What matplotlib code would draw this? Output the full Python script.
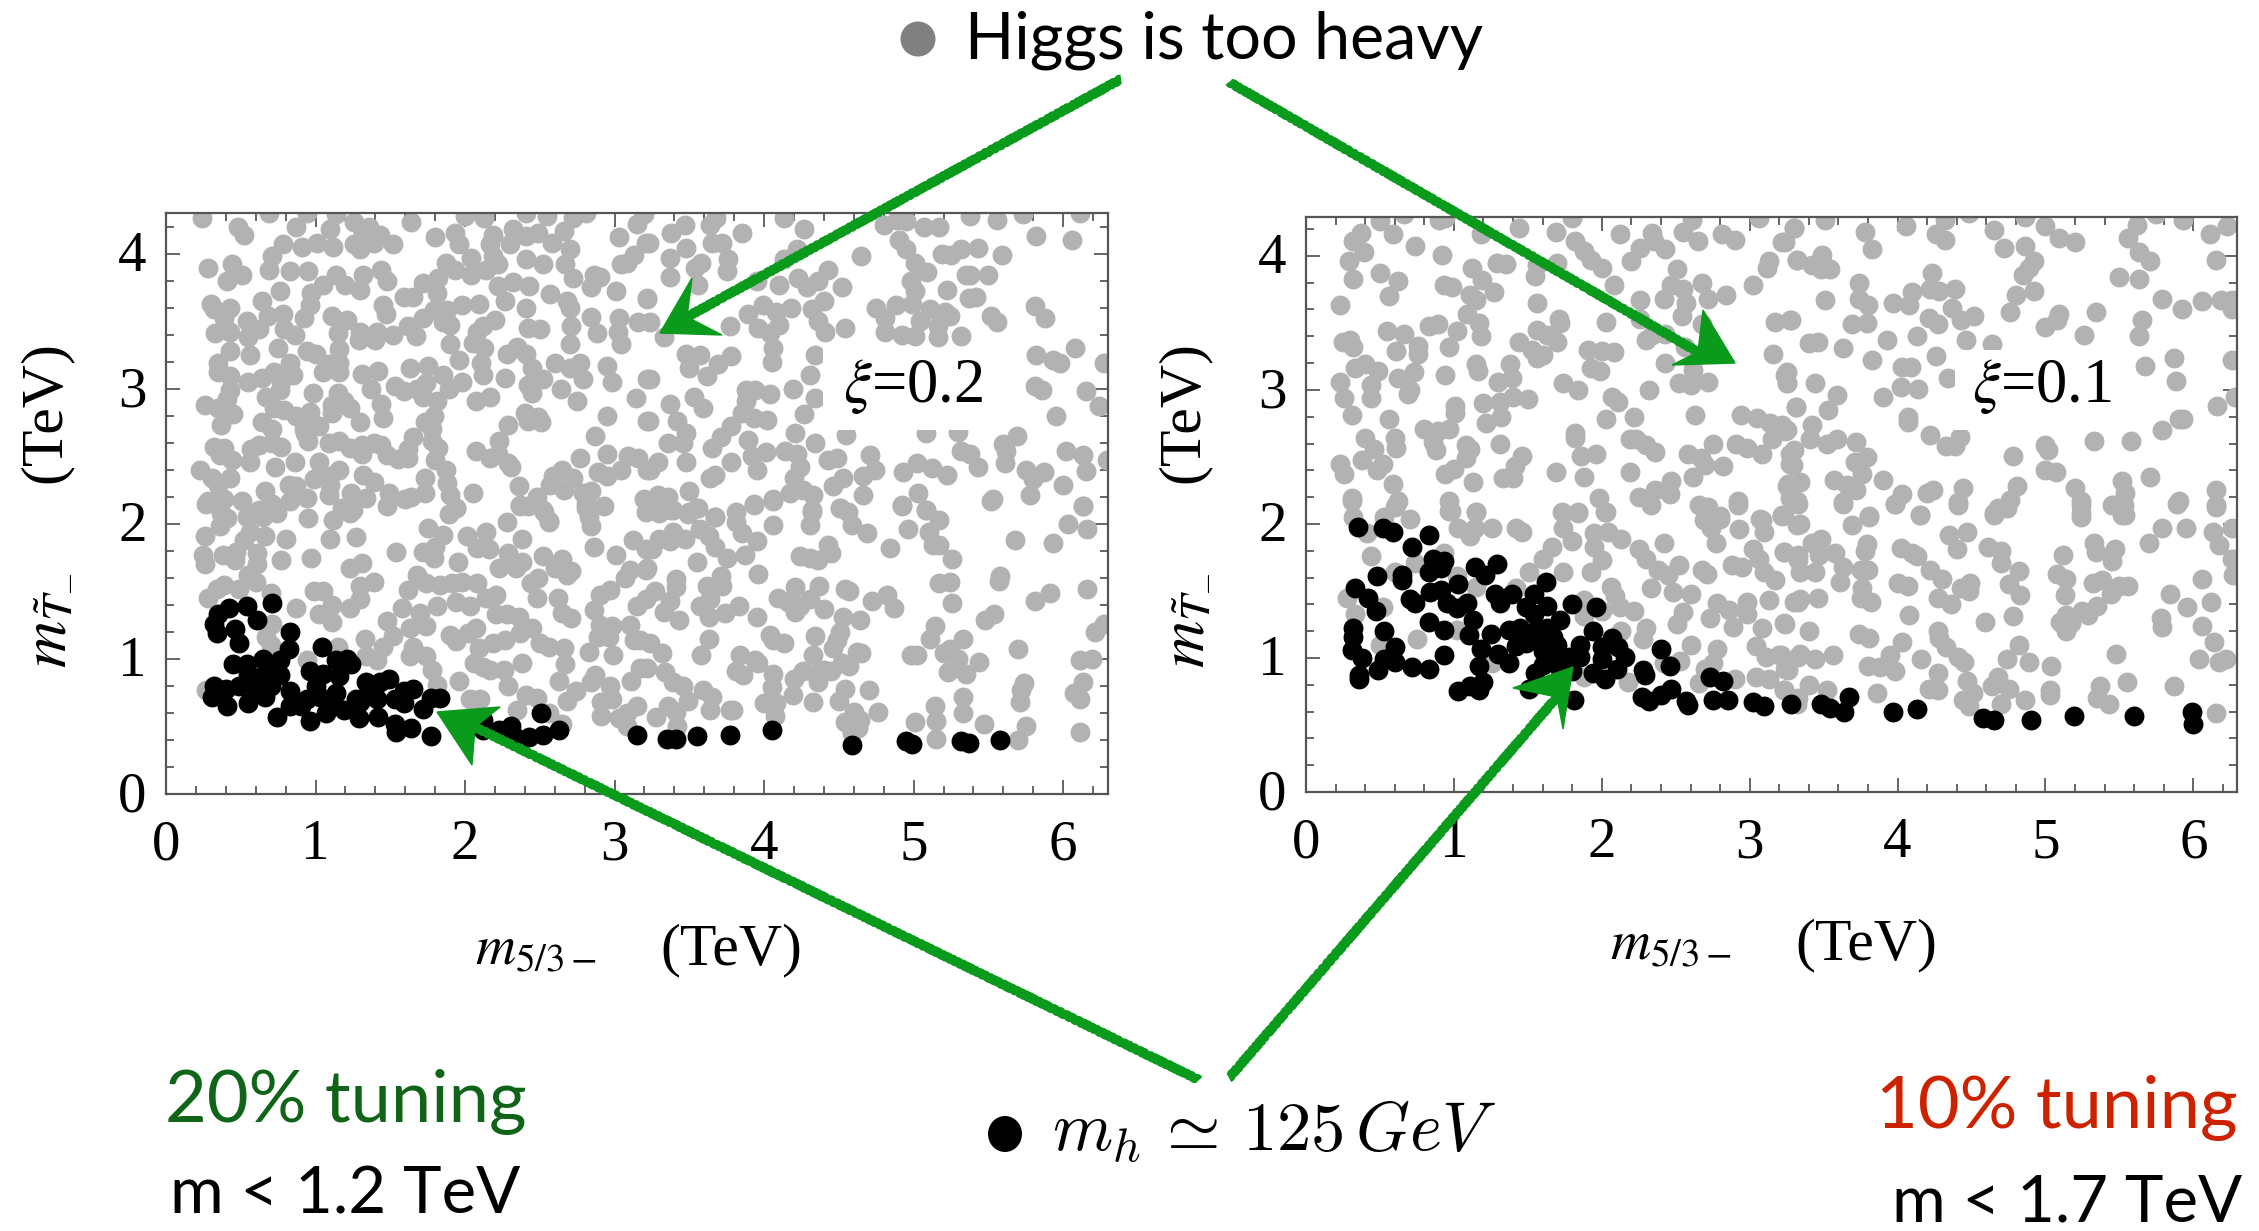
import matplotlib
matplotlib.use("Agg")
import matplotlib.pyplot as plt
from matplotlib.patches import Ellipse, Polygon, Rectangle
from matplotlib.ticker import MultipleLocator
from matplotlib.transforms import ScaledTranslation

# ---- data: (m_5/3, m_T) in TeV ----
left_gray = [
(.24,4.26),(.48,4.20),(.52,4.14),(.69,4.30),(.87,4.20),(.94,4.30),(1.10,4.18),(1.14,4.29),(1.26,4.23),(1.36,4.20),(1.43,4.14),(1.32,4.15),(1.52,4.07),(1.39,4.08),(1.30,4.03),(1.26,4.07),(1.64,4.23),(1.80,4.12),(1.93,4.15),(1.96,4.07),(2.0,4.28),(2.13,4.26),(2.19,4.14),(2.32,4.18),(2.41,4.30),(2.55,4.28),(2.72,4.26),(2.81,4.30),(2.41,4.13),(2.49,4.15),(2.58,4.08),(2.66,4.17),(2.70,4.03),(2.30,4.07),(2.17,4.07),(3.03,4.12),(3.15,4.22),(3.21,4.08),
(.78,4.07),(.91,4.05),(1.01,4.08),(1.12,4.05),(.71,3.98),(.28,3.89),(.44,3.92),(.51,3.84),(.41,3.80),(.69,3.88),(.83,3.87),(.95,3.87),(.76,3.72),(1.14,3.84),(1.05,3.77),(1.20,3.77),(1.30,3.73),(1.32,3.84),(1.44,3.88),(1.48,3.80),(.97,3.71),(.96,3.62),(.30,3.63),(.32,3.59),(.43,3.60),(.64,3.65),(.39,3.52),(.54,3.50),(.68,3.54),(.78,3.55),(.92,3.52),(.43,3.42),(.33,3.41),(.62,3.44),(.55,3.38),(.79,3.44),(.86,3.40),(.43,3.28),(.56,3.25),(.75,3.30),(.94,3.28),(1.0,3.26),(.35,3.19),(.83,3.19),(.35,3.12),(.43,3.09),(.55,3.05),(.64,3.08),(.72,3.12),(.85,3.10),(.77,3.05),(.43,2.99),(.76,2.99),(.41,2.92),(.26,2.88),(.35,2.86),(.45,2.81),(.37,2.73),(.67,2.94),(.72,2.86),(.79,2.84),(.64,2.75),(.71,2.70),(.98,2.97),(.87,2.80),(.96,2.83),(1.02,2.72),(.92,2.70),
(1.11,3.54),(1.21,3.51),(1.15,3.41),(1.29,3.36),(1.30,3.42),(1.40,3.36),(1.41,3.42),(1.52,3.40),(1.67,3.39),(1.62,3.46),(1.72,3.52),(1.79,3.58),(1.85,3.49),(1.90,3.47),(1.88,3.58),(1.98,3.62),(1.90,3.33),(1.96,3.21),(1.45,3.62),(1.47,3.55),(1.59,3.68),(1.65,3.68),(1.72,3.78),(1.82,3.82),(1.81,3.71),(1.87,3.93),(1.93,3.88),(2.04,3.97),(2.04,3.84),(2.14,3.88),(2.22,3.92),(2.19,3.98),(2.41,3.96),(2.52,3.92),(2.67,3.92),(2.72,3.82),(2.86,3.84),(2.84,3.75),(2.90,3.83),(3.01,3.72),(3.04,3.92),(3.13,3.99),(3.08,3.93),(3.22,3.67),
(2.09,3.63),(2.22,3.76),(2.32,3.79),(2.43,3.76),(2.57,3.70),(2.68,3.65),(2.70,3.60),(2.27,3.65),(2.20,3.51),(2.12,3.46),(2.08,3.42),(2.05,3.34),(2.13,3.30),(2.11,3.19),(2.12,3.10),(2.27,3.08),(2.41,3.60),(2.42,3.45),(2.50,3.44),(2.28,3.26),(2.35,3.31),(2.41,3.26),(2.45,3.15),(2.60,3.19),(2.70,3.33),(2.77,3.19),(2.79,3.07),(2.70,3.15),(2.52,3.07),(2.42,3.03),(2.45,2.97),(2.64,3.0),(2.75,2.91),(2.71,3.46),(2.84,3.53),(2.88,3.41),(3.03,3.52),(3.02,3.42),(3.04,3.33),(3.16,3.49),(2.95,3.17),(2.98,3.05),(3.14,2.93),(2.95,2.80),(2.87,2.65),(3.22,3.07),(3.22,2.76),(2.77,2.49),(2.95,2.52),(2.89,2.38),(2.95,2.35),(3.04,2.40),(3.09,2.50),(3.16,2.49),(3.22,2.40),
(1.31,3.11),(1.42,3.13),(1.37,3.0),(1.63,3.15),(1.75,3.17),(1.85,3.10),(1.98,3.05),(1.89,3.0),(1.74,3.04),(1.68,3.0),(1.53,3.02),(1.59,2.98),(1.72,2.94),(1.81,2.91),(2.07,2.91),(2.17,2.94),(1.44,2.89),(1.45,2.78),(1.79,2.80),(1.73,2.75),(1.78,2.70),(1.65,2.64),(1.78,2.61),(1.82,2.56),(1.80,2.47),(1.87,2.40),(1.88,2.30),(1.90,2.21),(1.94,2.12),(1.89,2.07),(2.05,2.23),(1.73,2.34),(1.73,2.23),(1.64,2.20),(1.60,2.18),
(1.16,3.12),(1.05,3.12),(1.09,3.18),(1.16,3.19),(1.16,3.29),(1.15,2.97),(1.19,2.91),(1.11,2.82),(1.11,2.88),(1.23,2.86),(1.30,2.75),(1.09,2.60),(1.16,2.61),(1.23,2.56),(1.31,2.58),(1.31,2.52),(1.39,2.60),(1.44,2.58),(1.48,2.51),(1.55,2.48),(1.62,2.49),(1.62,2.55),
(.95,2.61),(.93,2.67),(.62,2.58),(.57,2.55),(.77,2.57),(.71,2.60),(.32,2.57),(.39,2.56),(.36,2.51),(.44,2.47),(.56,2.46),(.73,2.42),(.86,2.46),(.23,2.40),(.31,2.34),(.43,2.34),(.35,2.29),(.66,2.24),(.82,2.29),(.87,2.28),(1.02,2.46),(1.16,2.40),(.99,2.33),(1.10,2.35),(1.10,2.29),(1.09,2.21),(1.32,2.36),(1.39,2.31),(1.24,2.23),(1.34,2.19),(1.49,2.23),(1.48,2.13),(.28,2.17),(.39,2.18),(.51,2.17),(.62,2.10),(.71,2.15),(.83,2.17),(.94,2.19),(.37,2.08),(1.18,2.12),(1.25,2.10),
(2.23,2.61),(2.22,2.52),(2.07,2.54),(2.17,2.49),(2.31,2.42),(2.29,2.45),(2.29,2.73),(2.40,2.82),(2.49,2.79),(2.51,2.75),(2.42,2.76),(2.36,2.28),(2.37,2.14),(2.42,2.13),(2.48,2.20),(2.53,2.09),(2.56,2.02),(2.57,2.29),(2.65,2.40),(2.59,2.35),(2.72,2.34),(2.66,2.25),(2.84,2.24),(2.79,2.23),(2.81,2.15),(2.93,2.13),(2.83,2.05),(3.20,2.18),(3.21,2.09),
(3.20,4.29),(3.38,4.15),(3.23,4.08),(3.47,4.21),(3.48,4.04),(3.37,3.97),(3.37,3.83),(3.64,4.21),(3.68,4.26),(3.85,4.15),(3.65,4.08),(3.72,4.08),(3.76,3.96),(3.75,3.87),(3.58,3.93),(3.54,3.89),(3.56,3.77),(3.22,3.66),(4.13,4.26),(4.27,4.18),(4.22,4.03),(4.13,3.96),(4.65,3.98),(4.80,4.21),(4.89,4.25),(4.95,4.24),(5.07,4.20),(5.17,4.20),(5.38,4.28),(5.56,4.25),(5.73,4.29),(5.82,4.13),(6.06,4.10),(6.11,4.30),(4.90,4.10),(4.95,4.03),(5.01,3.93),(5.09,3.86),(5.19,4.0),(5.25,3.99),(5.32,4.03),(5.43,4.04),(5.59,3.99),(5.35,3.84),(5.38,3.84),(5.50,3.84),(5.22,3.73),(5.37,3.67),(5.42,3.68),(4.98,3.80),(5.01,3.72),(4.99,3.63),(4.88,3.62),(4.75,3.60),(4.81,3.52),(4.81,3.42),(4.92,3.40),(5.01,3.39),(5.04,3.50),(5.11,3.59),(5.21,3.57),(5.24,3.54),(5.16,3.46),(5.16,3.38),(5.32,3.39),(5.52,3.54),(5.56,3.49),(5.81,3.61),(5.88,3.52),(6.08,3.30),(5.82,3.25),(5.93,3.21),(5.98,3.19),(6.27,3.19),(6.15,2.98),(6.24,2.87),(5.81,3.02),(5.86,2.99),(5.95,2.80),(5.69,2.65),(5.60,2.59),(5.62,2.54),(5.61,2.45),(5.43,2.42),(5.38,2.52),(5.32,2.54),(5.08,2.67),(5.30,2.68),(4.55,2.66),(6.02,2.54),(6.13,2.51),(6.15,2.39),(5.87,2.38),(5.75,2.40),(5.80,2.33),(5.78,2.21),(6.0,2.29),(5.53,2.18),(6.13,2.13),(6.29,2.47),
(5.12,2.41),(5.22,2.36),(5.02,2.45),(4.93,2.38),(5.03,2.23),(4.92,2.14),(5.08,2.10),(4.71,2.51),(4.74,2.40),(4.66,2.35),(4.66,2.21),(4.53,2.34),(4.46,2.28),(4.49,2.49),(4.43,2.47),(4.51,2.12),(4.34,2.60),
(3.24,3.49),(3.33,3.38),(3.48,3.26),(3.57,3.25),(3.50,3.15),(3.62,3.09),(3.69,3.18),(3.78,3.24),(3.77,3.46),(3.89,3.55),(3.99,3.62),(3.96,3.45),(4.08,3.57),(4.18,3.60),(4.10,3.47),(4.04,3.41),(4.06,3.30),(4.05,3.20),(3.95,3.80),(4.10,3.77),(4.23,3.82),(4.29,3.75),(4.36,3.80),(4.43,3.88),(4.52,3.75),(4.40,3.65),(4.32,3.59),(4.36,3.50),(4.41,3.42),(4.54,3.45),(4.34,3.25),(4.31,3.10),
(3.24,3.07),(3.53,2.94),(3.37,2.89),(3.59,2.86),(3.23,2.76),(3.42,2.76),(3.48,2.67),(3.36,2.60),(3.46,2.60),(3.48,2.46),(3.29,2.46),(3.24,2.40),(3.71,2.64),(3.65,2.56),(3.78,2.72),(3.85,2.82),(3.88,2.99),(3.94,2.99),(4.04,2.96),(3.88,2.91),(4.02,2.77),(3.93,2.78),(3.78,2.46),(3.89,2.62),(4.01,2.53),(3.92,2.50),(3.95,2.40),(3.64,2.34),(3.67,2.36),(4.19,3.0),(4.27,2.81),(4.34,2.93),(4.21,2.67),(4.14,2.54),(4.22,2.52),(4.24,2.42),(4.20,2.34),(4.26,2.25),(4.33,2.21),(4.17,2.23),(4.06,2.18),(3.93,2.15),(3.81,2.09),(3.67,2.05),(3.55,2.12),(3.50,2.24),(3.36,2.20),(3.29,2.21),(3.23,2.17),(3.38,2.10),(3.49,2.07),(4.32,2.10),
(.26,1.91),(.25,1.77),(.26,1.70),(.27,2.15),(.36,1.98),(.41,2.04),(.54,2.05),(.65,2.05),(.74,2.08),(.56,1.94),(.80,1.89),(.66,1.91),(.52,1.88),(.47,1.79),(.38,1.77),(.46,1.73),(.61,1.78),(.61,1.70),(.55,1.62),(.60,1.57),(.77,1.73),(.97,1.75),(1.10,1.89),(1.27,1.90),(.95,2.04),(1.12,2.03),(1.23,2.08),(.39,1.55),(.34,1.52),(.28,1.45),(.70,1.49),(.49,1.52),
(1.23,1.67),(1.31,1.71),(1.39,1.57),(1.30,1.54),(1.30,1.44),(1.23,1.38),(1.11,1.40),(1.05,1.50),(.99,1.50),(1.02,1.33),(1.11,1.27),(.87,1.38),(.71,1.26),(1.48,1.28),(1.54,1.79),(1.72,1.79),(1.79,1.75),(1.95,1.72),(1.75,1.97),(1.85,1.92),(1.80,1.83),(1.94,2.12),(2.01,1.91),(2.14,1.94),(2.08,1.82),(2.16,1.81),(2.28,2.01),(2.38,1.89),(2.29,1.78),(2.23,1.67),(2.34,1.67),(2.38,1.72),(2.52,1.76),(2.65,1.74),(2.60,1.67),(2.68,1.62),(2.71,1.65),(2.44,1.56),(2.49,1.60),(2.48,1.45),(2.62,1.45),(2.65,1.34),(2.71,1.30),(2.86,1.83),(3.01,1.77),(3.12,1.88),(2.84,1.98),(2.81,2.12),(2.56,2.01),(2.52,2.10),(2.37,2.13),(3.21,1.81),
(3.07,1.60),(3.10,1.66),(3.21,1.66),(2.97,1.51),(2.90,1.47),(2.86,1.36),(2.90,1.25),(2.98,1.24),(2.89,1.16),(2.96,1.16),(2.83,1.05),(2.99,1.03),(3.10,1.25),(3.15,1.39),(3.13,1.14),(3.21,1.44),(2.66,1.08),(2.56,1.09),(2.67,.96),(2.63,.84),(2.87,.88),(2.84,.83),(2.97,.80),(3.17,.93),(3.11,.84),(2.91,.68),(2.98,.70),(2.74,.76),(2.68,.69),(2.91,.58),(3.15,.65),(3.08,.60),(3.08,.50),(3.03,.56),(2.65,.52),(2.56,.60),
(2.45,1.23),(2.36,1.31),(2.28,1.33),(2.21,1.33),(2.37,1.19),(2.50,1.12),(2.27,1.14),(2.38,.97),(2.19,1.12),(2.09,1.08),(2.07,1.23),(1.90,1.18),(1.94,1.13),(2.02,1.19),(1.65,1.09),(1.63,1.02),(1.74,1.02),(1.78,.92),(1.81,.81),(1.52,1.17),(1.33,1.15),(1.45,1.09),(1.41,.99),(1.34,1.02),(1.15,1.09),(.94,.99),(1.96,.84),(2.06,.97),(2.17,.92),(2.26,.92),(2.29,.80),(2.12,.94),(2.03,.70),(2.10,.70),(2.41,.73),(2.48,.71),(2.35,.62),(1.62,1.51),(1.68,1.62),(1.74,1.56),(1.83,1.55),(1.91,1.56),(1.98,1.57),(2.08,1.56),(2.21,1.47),(2.14,1.45),(1.58,1.38),(1.70,1.34),(1.81,1.39),(1.94,1.42),(2.03,1.39),(1.74,1.24),(1.63,1.23),(.67,1.16),(.70,1.10),(.27,.77),
(3.30,2.08),(3.22,2.10),(3.39,2.10),(3.50,2.09),(3.56,2.12),(3.67,2.05),(3.81,2.01),(3.85,1.93),(3.93,2.14),(4.06,1.99),(3.95,1.87),(4.06,2.17),(4.32,2.09),(4.31,1.99),(4.51,2.12),(4.56,2.09),(4.59,1.99),(4.69,1.93),(4.92,2.13),(4.96,1.96),(5.08,2.10),(5.17,2.03),(5.10,1.94),(5.13,1.84),(5.17,1.84),(5.26,1.74),(4.84,1.82),(5.52,2.17),(5.68,1.88),(5.93,1.86),(6.03,2.0),(6.16,1.96),(6.13,2.13),
(3.39,1.94),(3.30,1.89),(3.37,1.87),(3.25,1.81),(3.47,1.89),(3.57,1.96),(3.63,1.91),(3.67,1.83),(3.55,1.72),(3.75,1.75),(3.87,1.77),(3.22,1.67),(3.96,1.63),(4.24,1.76),(4.31,1.75),(4.36,1.73),(4.43,1.84),(4.45,1.78),
(3.41,1.59),(3.41,1.53),(3.27,1.50),(3.37,1.43),(3.33,1.35),(3.43,1.29),(3.62,1.54),(3.71,1.61),(3.72,1.54),(3.57,1.39),(3.64,1.44),(3.63,1.31),(3.74,1.34),(3.83,1.39),(3.95,1.31),(4.09,1.45),(4.16,1.42),(4.21,1.53),(4.24,1.39),(4.21,1.35),(4.31,1.44),(4.37,1.54),(4.40,1.37),(4.54,1.52),(4.57,1.50),(4.72,1.43),(4.82,1.47),(4.87,1.38),(4.53,1.31),(4.64,1.29),(5.17,1.56),(5.24,1.57),(5.26,1.41),(5.58,1.61),(5.57,1.58),(5.91,1.49),(5.81,1.43),(6.16,1.52),(5.54,1.33),(5.48,1.29),
(3.63,1.15),(3.58,1.03),(3.24,1.12),(3.32,1.04),(3.17,1.14),(4.04,1.18),(4.06,1.14),(4.13,1.12),(4.34,1.17),(4.51,1.20),(4.49,1.14),(4.46,1.08),(4.33,1.03),(4.62,1.05),(4.65,1.04),(4.57,.95),(4.52,.97),(4.98,1.03),(5.02,1.03),(5.14,1.24),(5.11,1.15),(5.33,1.15),(5.20,1.04),(5.24,1.07),(5.30,1.0),(5.23,.90),(5.35,.89),(5.44,.98),(5.70,1.07),(6.21,1.20),(6.27,1.26),(6.11,.99),(6.19,1.0),(6.13,.83),(6.07,.75),(6.11,.70),(6.11,.46),
(3.84,1.03),(3.81,.91),(3.86,.88),(3.94,.99),(3.96,.97),(4.06,.89),(4.05,.79),(4.20,.85),(4.26,.91),(4.35,.89),(4.36,.83),(4.45,.91),(4.40,.92),(4.19,.73),(4.00,.67),(4.08,.67),(4.07,.58),(4.33,.68),(4.50,.69),(4.54,.78),(4.70,.77),(4.76,.61),(4.60,.61),(4.54,.53),(4.64,.55),(4.63,.49),(4.59,.45),
(3.34,.90),(3.39,.83),(3.46,.80),(3.49,.69),(3.59,.77),(3.65,.72),(3.64,.62),(3.77,.62),(3.79,.62),(3.36,.65),(3.41,.61),(3.28,.57),(3.42,.50),(3.22,.93),
(5.33,.72),(5.33,.60),(5.14,.65),(5.15,.54),(5.01,.53),(5.15,.41),(5.47,.52),(5.74,.82),(5.72,.77),(5.71,.68),(5.75,.50),(5.70,.40),
]
left_black = [
(.32,.80),(.31,.72),(.41,.65),(.55,.67),(.49,.80),(.66,.72),(.74,.57),(.83,.65),(.83,.76),(.45,.96),(.54,.96),(.65,1.0),(.76,.99),(.82,1.07),(.76,.88),(.64,.87),(.56,.84),(.49,1.12),(.46,1.22),(.34,1.19),(.32,1.26),(.35,1.33),(.42,1.38),(.54,1.39),(.61,1.29),(.71,1.41),(.83,1.20),(1.04,1.09),(1.14,.99),(1.21,1.0),(1.24,.96),(.96,.91),(1.05,.89),(1.16,.87),(.96,.54),(1.03,.72),(.94,.70),(1.07,.60),(1.19,.62),(1.29,.56),(1.27,.70),(1.14,.75),(1.34,.83),(1.43,.83),(1.49,.85),(1.42,.57),(1.41,.70),(1.53,.70),(1.59,.76),(1.65,.78),(1.59,.67),(1.53,.52),(1.54,.46),(1.64,.49),(1.77,.43),(1.72,.63),(1.77,.71),(1.83,.71),(2.12,.47),(2.23,.47),(2.31,.50),(2.33,.43),(2.43,.42),(2.52,.44),(2.63,.47),(2.51,.60),(3.15,.44),(2.12,.55),
(.40,.78),(.60,.75),(.70,.80),(.90,.65),(1.00,.80),(1.10,.65),(.55,.88),(.70,.92),(1.30,.68),(1.35,.75),
(3.35,.41),(3.41,.41),(3.55,.43),(3.77,.44),(4.05,.47),(4.59,.36),(4.95,.39),(4.99,.37),(5.32,.39),(5.37,.38),(5.58,.40),
]
right_gray = [
(.37,4.17),(.32,4.11),(.39,4.03),(.50,4.26),(.59,4.16),(.66,4.31),(.74,4.07),(.92,4.01),(.90,4.27),(.94,4.28),(.29,3.96),(.32,3.83),(.50,3.87),(.62,3.81),(.56,3.70),(.23,3.63),(.93,3.78),(.99,3.77),(1.18,4.16),(1.12,3.91),(1.29,3.95),(1.35,3.94),(1.19,3.82),(1.27,3.73),(1.11,3.71),(1.15,3.67),(1.09,3.57),(1.17,3.50),(1.02,3.44),(1.18,3.40),(.97,3.32),(.83,3.48),(.89,3.49),(.55,3.44),(.66,3.42),(.25,3.36),(.32,3.32),(.30,3.37),(.76,3.33),(.76,3.27),(.61,3.29),(.33,3.16),(.40,3.19),(.49,3.14),(.73,3.13),(.23,3.06),(.62,3.09),(.44,3.04),(.69,2.97),(.70,3.0),(.26,2.94),(.44,2.94),(.31,2.81),(.56,2.78),(1.15,3.19),(1.16,3.14),(.94,3.11),(1.38,3.19),(1.39,3.09),(1.30,3.06),(1.44,4.21),(1.69,4.18),(1.80,4.28),(1.55,3.85),(1.56,3.93),(1.70,3.95),(1.56,3.65),(1.71,3.53),(1.72,3.50),(1.56,3.45),(1.63,3.41),(1.70,3.36),(1.44,3.36),(1.53,3.30),(1.60,3.26),(1.56,3.24),(1.91,3.30),(2.0,3.29),(2.08,3.28),(1.93,3.16),(1.99,3.14),(1.74,3.05),(1.84,3.0),(2.07,2.95),(2.11,2.91),(2.32,3.0),(2.03,2.78),(2.22,2.80),(1.82,2.68),(1.82,2.64),(1.86,2.51),(1.96,2.52),(1.69,2.39),(1.88,2.35),(1.33,2.34),(1.40,2.34),(1.41,2.43),(1.46,2.51),(1.31,2.60),(1.22,2.75),(1.32,2.80),(1.20,2.90),(1.31,2.91),(1.40,2.95),(1.50,2.93),(1.01,2.88),(1.01,2.83),(.80,2.71),(.89,2.69),(.97,2.71),(.86,2.61),(.88,2.55),(1.08,2.59),(1.11,2.56),(1.08,2.49),(1.0,2.41),(.94,2.37),(1.13,2.31),(.40,2.64),(.46,2.56),(.60,2.64),(.61,2.57),(.38,2.48),(.23,2.45),(.26,2.37),(.52,2.45),(.48,2.40),(.59,2.30),(.31,2.19),(.62,2.17),(.60,2.13),(.97,2.17),(.97,2.10),(1.15,2.09),
(2.12,4.16),(1.82,4.11),(1.88,4.04),(1.93,3.97),(2.0,3.91),(2.20,3.96),(2.26,4.06),(2.34,4.17),(2.35,4.11),(2.43,4.05),(2.55,4.18),(2.65,4.11),(2.61,4.27),(2.81,4.16),(2.90,4.12),(2.51,3.90),(2.68,3.80),(2.47,3.78),(2.55,3.75),(2.42,3.68),(2.57,3.65),(2.72,3.68),(2.84,3.71),(2.54,3.55),(2.26,3.67),(2.26,3.53),(2.08,3.78),(2.03,3.51),(2.34,3.41),(2.43,3.42),(2.30,3.37),(2.56,3.32),(2.43,3.20),(2.62,3.15),(2.52,3.05),(2.60,3.04),(2.72,3.06),(2.68,3.49),(3.02,3.78),(3.24,4.10),(3.13,3.96),(3.12,3.91),(3.06,4.28),(3.30,4.21),(3.32,3.97),(3.17,3.51),(3.28,3.52),(3.16,3.27),(3.24,3.11),(3.25,3.05),(2.63,2.81),(2.94,2.81),(3.05,2.79),(3.14,2.75),(3.22,2.74),(3.24,2.69),(3.15,2.63),(2.91,2.60),(2.98,2.57),(3.08,2.52),(2.75,2.60),(2.58,2.52),(2.67,2.49),(2.70,2.44),(2.82,2.43),(2.62,2.35),(3.31,2.87),(3.27,2.52),(3.27,2.45),(2.19,2.39),(2.19,2.63),(2.23,2.63),(2.30,2.59),(2.36,2.54),(2.47,2.32),(2.36,2.25),(2.46,2.22),(2.25,2.20),(2.33,2.14),(1.98,2.19),(2.02,2.09),(2.66,2.14),(2.72,2.06),(2.92,2.17),(2.80,2.06),(3.26,2.30),(3.27,2.19),(3.22,2.07),(3.07,2.04),(1.73,2.09),(1.84,2.09),(.70,2.04),
(.31,2.17),(.32,2.05),(.41,1.93),(.44,1.76),(.28,1.45),(.33,1.33),(.52,1.38),(.60,1.64),(.53,2.05),(.61,2.14),(.74,1.71),(.93,1.78),(1.02,1.61),(1.15,1.53),(.98,2.10),(1.15,2.09),(1.03,1.97),(1.11,1.91),(1.14,1.97),(1.26,1.97),(1.42,1.97),(1.46,1.94),(.75,1.14),(.50,1.10),(1.02,1.21),(1.26,.96),(1.42,1.52),(1.51,1.64),(1.60,1.74),(1.66,1.83),(1.74,2.08),(1.84,2.08),(1.74,1.97),(1.80,1.87),(1.74,1.64),(1.95,1.93),(2.04,1.94),(2.13,1.89),(1.95,1.83),(2.0,1.73),(1.93,1.64),(2.03,2.09),(2.25,1.81),(2.30,1.74),(2.42,1.86),(2.38,1.66),(2.45,1.62),(2.52,1.69),(2.33,1.52),(2.48,1.49),(2.60,1.48),(2.06,1.53),(2.09,1.46),(2.12,1.38),(2.22,1.35),(1.88,1.43),(1.88,1.31),(2.0,1.35),(2.30,1.22),(2.28,1.14),(2.13,1.20),(2.55,1.34),(2.51,1.25),(2.60,1.10),(2.53,.98),(2.42,.96),(1.88,.86),(2.18,.82),(2.68,1.66),(2.71,1.63),(2.88,1.69),(2.95,1.68),(2.69,2.03),(2.74,1.97),(2.77,1.86),(2.80,2.04),(2.72,2.13),(2.92,2.14),(2.93,1.96),(3.08,2.03),(3.10,1.94),(3.02,1.81),(3.06,1.74),(3.10,1.64),(3.17,1.58),(3.13,1.43),(3.22,2.06),(3.23,1.79),(3.32,1.99),(3.33,1.73),(3.33,1.42),(2.78,1.41),(2.73,1.30),(2.86,1.36),(2.89,1.23),(2.98,1.42),(2.98,1.33),(3.08,1.22),(3.23,1.26),(2.78,1.07),(2.75,.96),(2.70,.92),(2.66,.81),(2.90,.84),(3.04,1.09),(3.11,1.01),(3.20,1.02),(3.24,.92),(3.04,.86),(3.13,.84),(3.23,.76),(3.32,.66),(3.33,1.01),
(3.30,4.21),(3.22,4.10),(3.51,4.27),(3.78,4.18),(3.83,4.05),(4.06,4.22),(4.32,4.27),(4.26,4.16),(4.32,4.12),(4.48,4.32),(4.65,4.19),(4.72,4.06),(4.86,4.29),(5.0,4.22),(5.09,4.13),(5.20,4.10),(4.86,4.07),(4.92,3.96),(4.89,3.91),(4.85,3.86),(3.32,3.97),(3.49,4.01),(3.42,3.93),(3.48,3.90),(3.54,3.90),(3.51,3.67),(3.74,3.80),(3.74,3.68),(3.80,3.63),(3.97,3.65),(4.08,3.63),(4.10,3.73),(4.23,3.87),(4.22,3.75),(4.28,3.74),(4.39,3.75),(4.37,3.61),(4.43,3.52),(4.52,3.55),(4.21,3.54),(4.27,3.49),(4.80,3.71),(4.92,3.74),(4.76,3.58),(5.09,3.57),(5.0,3.47),(5.08,3.52),(5.34,3.58),(5.26,3.41),(5.50,3.84),(5.63,3.83),(5.56,4.13),(5.63,4.03),(5.71,3.96),(5.62,4.23),(5.75,4.31),(5.93,4.27),(6.11,4.16),(6.23,4.22),(6.15,3.97),(5.79,3.68),(5.92,3.60),(6.06,3.66),(6.19,3.67),(6.26,3.67),(6.26,3.60),(5.65,3.52),(5.63,3.40),(5.67,3.18),(5.87,3.24),(5.88,3.07),(6.26,3.22),(6.28,2.95),(6.16,2.88),(5.79,2.70),(5.90,2.78),(5.93,2.78),(5.58,2.62),(5.33,2.62),(5.0,2.59),(5.02,2.55),(4.78,2.51),(5.0,2.40),(5.07,2.39),(5.71,2.35),(5.52,2.32),(5.54,2.23),(6.15,2.25),(5.90,2.17),(6.15,2.14),(5.20,2.27),(5.24,2.17),(5.24,2.08),(5.45,2.14),(5.53,2.14),(5.54,2.07),(4.81,2.28),(4.76,2.18),(4.65,2.08),(4.68,2.12),
(3.27,3.52),(3.40,3.35),(3.46,3.36),(3.63,3.31),(3.69,3.49),(3.79,3.50),(3.93,3.37),(4.13,3.40),(4.26,3.25),(4.46,3.37),(4.64,3.34),(3.83,3.22),(4.03,3.17),(4.09,3.17),(4.34,3.09),(3.25,3.13),(3.25,3.05),(3.44,3.05),(3.59,2.96),(3.53,2.85),(3.31,2.87),(4.02,3.02),(4.14,3.01),(3.90,2.95),(4.07,2.80),(4.07,2.76),(4.22,2.66),(4.33,2.58),(4.39,2.58),(4.42,2.65),(3.25,2.70),(3.22,2.73),(3.42,2.74),(3.41,2.63),(3.52,2.60),(3.59,2.63),(3.72,2.61),(3.79,2.50),(3.71,2.46),(3.76,2.37),(3.90,2.33),(3.57,2.33),(3.66,2.29),(3.72,2.25),(3.63,2.16),(3.30,2.55),(3.29,2.44),(3.25,2.28),(3.34,2.31),(3.32,2.17),(4.03,2.22),(3.98,2.15),(4.24,2.25),(4.20,2.23),(4.44,2.27),(4.41,2.16),(3.81,2.06),(4.15,2.07),
(3.23,2.07),(3.34,2.0),(3.33,2.15),(3.63,2.15),(3.69,1.99),(3.81,2.05),(3.98,2.15),(4.15,2.07),(4.41,2.14),(4.65,2.07),(4.74,2.12),(5.24,2.14),(5.24,2.05),(5.46,2.14),(5.52,2.07),(5.89,2.15),(6.15,2.13),(5.79,1.97),(5.95,1.97),(5.70,1.86),(6.13,1.94),(6.17,1.84),(6.26,1.97),(6.26,1.74),(6.27,1.62),(4.35,1.92),(4.47,1.94),(4.40,1.81),(4.61,1.83),(4.70,1.80),(4.70,1.71),(4.82,1.65),(5.12,1.77),(5.33,1.86),(5.34,1.79),(5.47,1.81),(5.45,1.72),(5.08,1.63),(5.14,1.59),(5.13,1.47),(5.32,1.56),(5.38,1.58),(5.50,1.54),(5.56,1.54),(5.44,1.48),(5.35,1.39),(5.29,1.32),(5.25,1.35),(5.14,1.32),(5.10,1.27),(5.17,1.26),(5.14,1.20),(5.84,1.48),(6.06,1.59),(5.96,1.38),(6.12,1.42),(5.78,1.30),(5.79,1.23),(6.06,1.24),(6.14,1.12),(6.04,.99),(6.17,.97),(6.22,.99),(5.87,.79),(6.15,.59),(5.48,1.03),(5.55,.82),(5.37,.79),(5.35,.70),(5.43,.66),(5.04,.94),(5.03,.76),(5.03,.72),(4.86,.69),(4.78,1.31),(4.59,1.27),(4.75,1.55),(4.83,1.47),(4.49,1.56),(4.43,1.52),(4.48,1.50),(4.27,1.45),(4.36,1.40),(4.22,1.66),(4.30,1.59),(4.02,1.82),(4.10,1.78),(4.13,1.76),(4.00,1.56),(4.07,1.54),(4.08,1.32),(3.76,1.52),(3.75,1.45),(3.82,1.42),(3.79,1.85),(3.78,1.80),(3.75,1.66),(3.80,1.66),(3.61,1.57),(3.63,1.68),(3.58,1.78),(3.48,1.89),(3.42,1.86),(3.47,1.77),(3.34,1.64),(3.44,1.64),(3.33,1.77),(3.23,1.79),(3.30,1.42),(3.34,1.44),(3.46,1.45),(3.24,1.25),(3.40,1.20),(3.74,1.18),(3.81,1.15),(4.03,1.12),(3.95,1.02),(4.27,1.20),(4.28,1.15),(4.33,1.08),(4.41,1.01),(4.45,.97),(4.16,.99),(3.34,1.03),(3.44,.99),(3.56,1.02),(3.21,1.02),(3.26,.91),(3.80,.94),(3.88,.93),(3.98,.90),(4.27,.89),(3.40,.80),(3.52,.76),(3.86,.74),(4.21,.77),(4.27,.76),(4.47,.83),(4.51,.74),(4.44,.69),(4.48,.64),(4.68,.86),(4.64,.79),(4.75,.77),(4.70,.66),(4.74,.99),(4.82,1.10),(4.89,.97),(3.23,.76),(3.33,.70),
]
right_black = [
(.35,1.98),(.52,1.97),(.59,1.94),(.83,1.92),(.72,1.83),(.86,1.74),(.93,1.72),(.83,1.64),(.91,1.67),(.48,1.61),(.65,1.62),(.65,1.58),(.33,1.52),(.42,1.45),(.47,1.35),(.70,1.44),(.74,1.41),(.84,1.49),(.91,1.51),(1.03,1.55),(.95,1.41),(1.09,1.41),(1.02,1.37),(.83,1.27),(.93,1.21),(1.14,1.68),(1.21,1.62),(1.29,1.70),(1.28,1.48),(1.39,1.48),(1.31,1.41),(1.13,1.28),(1.10,1.17),(1.25,1.18),(1.18,1.07),(.32,1.22),(.32,1.16),(.31,1.06),(.38,1.0),(.53,1.20),(.60,1.08),(.53,.99),(.60,.97),(.49,.91),(.36,.87),(.36,.84),(.72,.93),(.83,.92),(.93,1.02),(1.17,.94),(1.03,.75),(1.11,.79),(1.17,.76),(1.20,.82),(1.30,1.03),(1.37,.96),(1.42,1.09),(1.37,1.21),(1.45,1.22),(1.62,1.57),(1.54,1.48),(1.49,1.38),(1.63,1.39),(1.54,1.33),(1.80,1.40),(1.72,1.28),(1.63,1.22),(1.58,1.13),(1.67,1.16),(1.49,1.11),(1.55,.89),(1.51,.77),(1.67,1.01),(1.78,1.01),(1.85,1.01),(1.85,1.10),(1.81,.69),(1.96,1.38),(1.94,1.20),(2.07,1.15),(2.0,1.08),(2.11,1.08),(2.16,1.01),(2.10,.92),(1.94,.89),(2.02,.84),(2.0,.99),(2.28,.91),(2.29,.87),(2.40,1.07),(2.46,.94),(2.47,.77),(2.40,.72),(2.27,.71),(2.32,.68),(2.57,.68),(2.58,.65),(2.73,.86),(2.82,.83),(2.75,.69),(2.85,.69),(3.02,.67),(3.10,.64),(3.28,.66),
(1.60,1.05),(1.70,1.10),(1.55,1.20),(1.72,.92),(1.60,.95),(1.80,.90),
(3.48,.66),(3.54,.63),(3.64,.60),(3.67,.71),(3.97,.60),(4.13,.62),(4.58,.55),(4.65,.54),(4.90,.54),(5.19,.57),(5.60,.57),(5.99,.60),(6.0,.51),
]
x_ticks = [0, 1, 2, 3, 4, 5, 6]
y_ticks = [0, 1, 2, 3, 4]
panel_labels = [r"$\xi$=0.2", r"$\xi$=0.1"]

W, H = 2259, 1231
plt.rcParams["font.family"] = ["Liberation Serif", "DejaVu Serif"]
plt.rcParams["mathtext.fontset"] = "stix"
fig = plt.figure(figsize=(W / 100, H / 100), dpi=100, facecolor="white")


def make_panel(box, lims, gray, black):
    l, t, r, b = box
    ax = fig.add_axes([l / W, 1 - b / H, (r - l) / W, (b - t) / H])
    ax.set_xlim(0, lims[0])
    ax.set_ylim(0, lims[1])
    ax.scatter(*zip(*gray), s=205, c="#b2b2b2", linewidths=0, zorder=2)
    ax.scatter(*zip(*black), s=205, c="black", linewidths=0, zorder=3)
    ax.set_xticks(x_ticks)
    ax.set_yticks(y_ticks)
    ax.xaxis.set_minor_locator(MultipleLocator(0.2))
    ax.yaxis.set_minor_locator(MultipleLocator(0.2))
    ax.tick_params(which="major", direction="in", length=9.8, width=1.2, color="#4a4a4a",
                   top=True, right=True, labelsize=41, zorder=5)
    ax.tick_params(which="minor", direction="in", length=5.8, width=1.2, color="#4a4a4a",
                   top=True, right=True, zorder=5)
    ax.tick_params(axis="x", which="major", pad=18)
    ax.tick_params(axis="y", which="major", pad=14)
    up = ScaledTranslation(0, 2.5 / 100, fig.dpi_scale_trans)
    for lab in ax.get_yticklabels():
        lab.set_transform(lab.get_transform() + up)
    for s in ax.spines.values():
        s.set_color("#555555")
        s.set_linewidth(1.6)
        s.set_zorder(6)
    return ax


axL = make_panel((166, 213, 1108, 794), (6.30, 4.30), left_gray, left_black)
axR = make_panel((1306, 217, 2237, 792), (6.295, 4.29), right_gray, right_black)

# overlay in picture pixels for the slide annotations
ov = fig.add_axes([0, 0, 1, 1], zorder=10)
ov.set_xlim(0, W)
ov.set_ylim(H, 0)
ov.axis("off")
ov.patch.set_alpha(0)

# white boxes and xi labels
for (x0, y0, x1, y1), cx, cy, s in [((823, 348, 1003, 430), 913, 387, panel_labels[0]),
                                    ((1955, 350, 2133, 430), 2042, 387, panel_labels[1])]:
    ov.add_patch(Rectangle((x0, y0), x1 - x0, y1 - y0, fc="white", ec="none"))
    ov.text(cx, cy, s, fontsize=45, ha="center", va="center")

# axis titles
for mx, tx, y in [(475, 660, 950), (1610, 1795, 945)]:
    ov.text(mx, y, r"$m_{5/3-}$", fontsize=40, ha="left", va="center")
    ov.text(tx, y, "(TeV)", fontsize=43, ha="left", va="center")
for x, ym, yt in [(44, 620, 412), (1182, 620, 412)]:
    ov.text(x, ym, r"$m_{\tilde{T}_{-}}$", fontsize=47, rotation=90, ha="center", va="center")
for x, yt in [(46, 412), (1184, 412)]:
    ov.text(x, yt, "(TeV)", fontsize=43, rotation=90, ha="center", va="center")

# legends
ov.add_patch(Ellipse((918, 39), 35, 35, fc="#808080", ec="none"))
ov.text(965, 58, "Higgs is too heavy", family="Lato", fontsize=46.5, ha="left", va="baseline", color="black")
ov.add_patch(Ellipse((1005, 1134), 34, 36, fc="black", ec="none"))
ov.text(1052, 1150, r"$m_h\,\simeq\,125\,GeV$", fontsize=49.5, math_fontfamily="cm", ha="left", va="baseline")

# tuning notes
ov.text(165, 1122, "20% tuning", family="Lato", fontsize=52, color="#106418", ha="left", va="baseline")
ov.text(170, 1213, "m < 1.2 TeV", family="Lato", fontsize=47, color="black", ha="left", va="baseline")
ov.text(2238, 1128, "10% tuning", family="Lato", fontsize=52, color="#cc2200", ha="right", va="baseline")
ov.text(2242, 1222, "m < 1.7 TeV", family="Lato", fontsize=47, color="black", ha="right", va="baseline")

# green hand-drawn arrows: tail, notch, tip, barbs
GREEN = "#0a9a1c"
arrows = [
    ((1121, 79), (687, 317), (660, 333), (692, 278), (722, 335)),
    ((1229, 82), (1698, 352), (1735, 363), (1703, 310), (1672, 365)),
    ((1199, 1080), (475, 727), (437, 712), (500, 707), (472, 765)),
    ((1229, 1078), (1557, 697), (1573, 667), (1513, 688), (1563, 729)),
]
for tail, notch, tip, b1, b2 in arrows:
    line, = ov.plot([tail[0], notch[0]], [tail[1], notch[1]], color=GREEN, lw=6.5, solid_capstyle="butt")
    line.set_sketch_params(scale=0.8, length=6, randomness=2)
    ov.add_patch(Polygon([tip, b1, notch, b2], closed=True, fc=GREEN, ec=GREEN, lw=1, joinstyle="miter"))

fig.savefig("out.png", dpi=100, facecolor="white")
